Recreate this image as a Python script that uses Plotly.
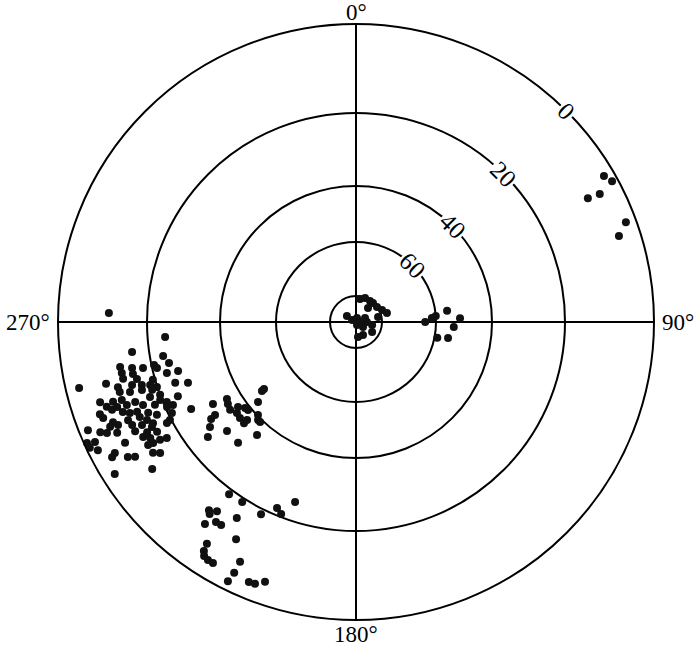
import numpy as np
import plotly.graph_objects as go

# sky plot: azimuth (deg, clockwise from north) and elevation (deg)
# elevation rings of the original projection and their radial position
ring_el = [0, 20, 40, 60, 80, 90]
ring_pos = [298, 209, 136, 80, 26, 0]
ring_labels = ["0", "20", "40", "60"]
dir_vals = [0, 90, 180, 270]
dir_labels = ["0°", "90°", "180°", "270°"]

zenith_az = [9.9, 20.6, 33.7, 41.8, 40.6, 54.5, 65.2, 73.8, 77.2, 303.7, 296.6,
             14.0, 90.0, 66.0, 90.0, 100.6, 125.5, 122.0, 172.4, 151.7, 161.6]
zenith_el = [81.0, 80.1, 80.3, 80.2, 82.9, 80.1, 79.0, 77.7, 81.3, 85.8, 88.3,
             88.4, 88.5, 86.2, 85.8, 83.7, 86.7, 82.7, 84.2, 84.3, 88.8]

east_az = [90.0, 87.0, 85.7, 83.0, 88.0, 92.9, 101.0, 99.9]
east_el = [64.0, 61.5, 60.0, 55.8, 51.4, 53.6, 59.0, 55.2]

ne_az = [59.5, 61.2, 62.3, 61.9, 69.7, 71.9, 272.1]
ne_el = [2.3, 1.3, 5.1, 7.9, 2.3, 4.8, 11.4]

sw_mid_az = [233.7, 233.9, 230.8, 239.2, 237.4, 240.2, 234.2, 232.2, 230.8, 235.1,
             232.6, 236.6, 236.2, 230.4, 228.0, 226.5, 225.0, 227.9, 234.3, 229.8,
             223.8, 221.2, 232.2, 224.3]
sw_mid_el = [46.9, 47.9, 43.4, 36.1, 35.6, 32.1, 37.4, 38.8, 39.1, 35.2,
             36.2, 31.0, 29.5, 36.0, 37.1, 40.3, 39.3, 35.9, 28.0, 31.0,
             39.3, 36.1, 25.9, 31.0]

ssw_az = [216.4, 212.3, 198.7, 203.0, 201.3, 206.3, 218.0, 216.3, 217.3, 211.3,
          216.8, 215.0, 213.6, 208.9, 213.9, 213.6, 213.0, 211.9, 210.7, 205.8,
          205.9, 206.3, 202.4, 201.1, 199.3]
ssw_el = [18.9, 19.1, 25.2, 21.9, 20.8, 18.8, 13.3, 14.2, 12.7, 15.4,
          10.3, 12.1, 12.2, 11.2, 6.9, 5.2, 4.3, 4.0, 4.0, 7.1,
          4.3, 2.0, 3.8, 3.9, 5.1]

wsw_az = [265.5, 262.4, 260.0, 257.6, 254.6, 259.2, 258.4, 257.8, 258.0, 257.0,
          254.9, 257.7, 256.9, 256.3, 255.4, 254.1, 251.4, 250.1, 256.6, 256.1,
          254.7, 254.3, 253.6, 253.0, 251.9, 253.5, 252.8, 252.4, 251.6, 249.6,
          247.4, 252.6, 251.8, 251.6, 250.1, 250.0, 248.3, 247.1, 251.2, 250.4,
          250.1, 248.7, 247.6, 245.8, 245.6, 242.2, 250.2, 250.2, 248.9, 248.1,
          247.7, 246.4, 245.0, 243.7, 249.2, 247.6, 246.7, 246.3, 244.9, 243.5,
          242.2, 246.9, 246.6, 245.3, 244.3, 242.8, 241.9, 248.0, 246.7, 246.0,
          245.1, 243.7, 242.2, 241.1, 241.6, 240.6, 239.0, 238.5, 245.8, 245.3,
          242.4, 239.4, 244.7, 243.6, 239.2, 241.5, 241.0, 239.4, 238.6, 237.2,
          236.2, 237.8, 234.2]
wsw_el = [24.8, 16.2, 23.6, 24.8, 26.7, 13.0, 15.6, 18.0, 20.7, 21.3,
          23.6, 13.1, 15.5, 13.1, 16.1, 19.5, 25.0, 28.3, 3.0, 9.1,
          11.5, 14.7, 16.8, 18.6, 19.9, 11.6, 13.8, 16.5, 18.7, 20.0,
          24.4, 6.7, 9.5, 11.5, 14.2, 17.7, 19.6, 21.0, 7.8, 10.0,
          12.2, 15.6, 18.1, 20.5, 22.2, 26.2, 5.8, 8.7, 10.8, 12.2,
          13.8, 16.0, 17.6, 21.0, 6.2, 7.9, 11.2, 13.9, 15.1, 16.0,
          19.7, 6.9, 8.7, 11.6, 13.6, 15.4, 18.8, 2.0, 4.4, 5.7,
          7.8, 11.6, 13.9, 15.9, 12.6, 13.9, 15.6, 17.1, 0.7, 2.4,
          8.4, 12.7, 0.8, 2.2, 13.9, 5.3, 4.3, 7.4, 8.8, 12.7,
          14.0, 2.9, 10.5]

az = np.array(zenith_az + east_az + ne_az + sw_mid_az + ssw_az + wsw_az)
el = np.array(zenith_el + east_el + ne_el + sw_mid_el + ssw_el + wsw_el)
r = np.interp(el, ring_el, ring_pos)

fig = go.Figure()
fig.add_trace(go.Scatterpolar(
    r=r, theta=az, mode="markers",
    marker=dict(size=8, color="#111111"),
    showlegend=False,
    hoverinfo="skip"
))

font = "Liberation Serif, Times New Roman, serif"
rmax = ring_pos[0]
annotations = []
# elevation labels sitting on the rings, along the 45 deg direction
for lab, rp in zip(ring_labels, ring_pos[:4]):
    f = 0.5 * rp / rmax
    annotations.append(dict(
        x=0.5 + f * np.sin(np.pi / 4), y=0.5 + f * np.cos(np.pi / 4),
        xref="paper", yref="paper", xanchor="center", yanchor="middle",
        text=lab, showarrow=False, textangle=45, bgcolor="white", borderpad=1,
        font=dict(family=font, size=25, color="black")
    ))
# azimuth labels just outside the outer ring
for lab, a in zip(dir_labels, dir_vals):
    s, c = np.sin(np.radians(a)), np.cos(np.radians(a))
    annotations.append(dict(
        x=0.5 + 0.5 * s, y=0.5 + 0.5 * c, xref="paper", yref="paper",
        xanchor="center" if abs(s) < 0.5 else ("left" if s > 0 else "right"),
        yanchor="middle" if abs(c) < 0.5 else ("bottom" if c > 0 else "top"),
        xshift=6 * s, yshift=-3 if c > 0.5 else 0,
        text=lab, showarrow=False,
        font=dict(family=font, size=23, color="black")
    ))

fig.update_layout(
    width=700, height=650,
    margin=dict(l=58, r=46, t=24, b=30),
    paper_bgcolor="white",
    showlegend=False,
    annotations=annotations,
    polar=dict(
        bgcolor="white",
        radialaxis=dict(
            range=[0, rmax], tickvals=ring_pos[:5],
            showticklabels=False, ticks="", showline=False,
            gridcolor="black", gridwidth=2
        ),
        angularaxis=dict(
            rotation=90, direction="clockwise",
            tickvals=dir_vals, showticklabels=False, ticks="",
            showline=True, linecolor="black", linewidth=2,
            gridcolor="black", gridwidth=1.5
        )
    )
)

fig.write_html("out.html", config={"displayModeBar": False},
               post_script="document.body.style.margin = '0';")
